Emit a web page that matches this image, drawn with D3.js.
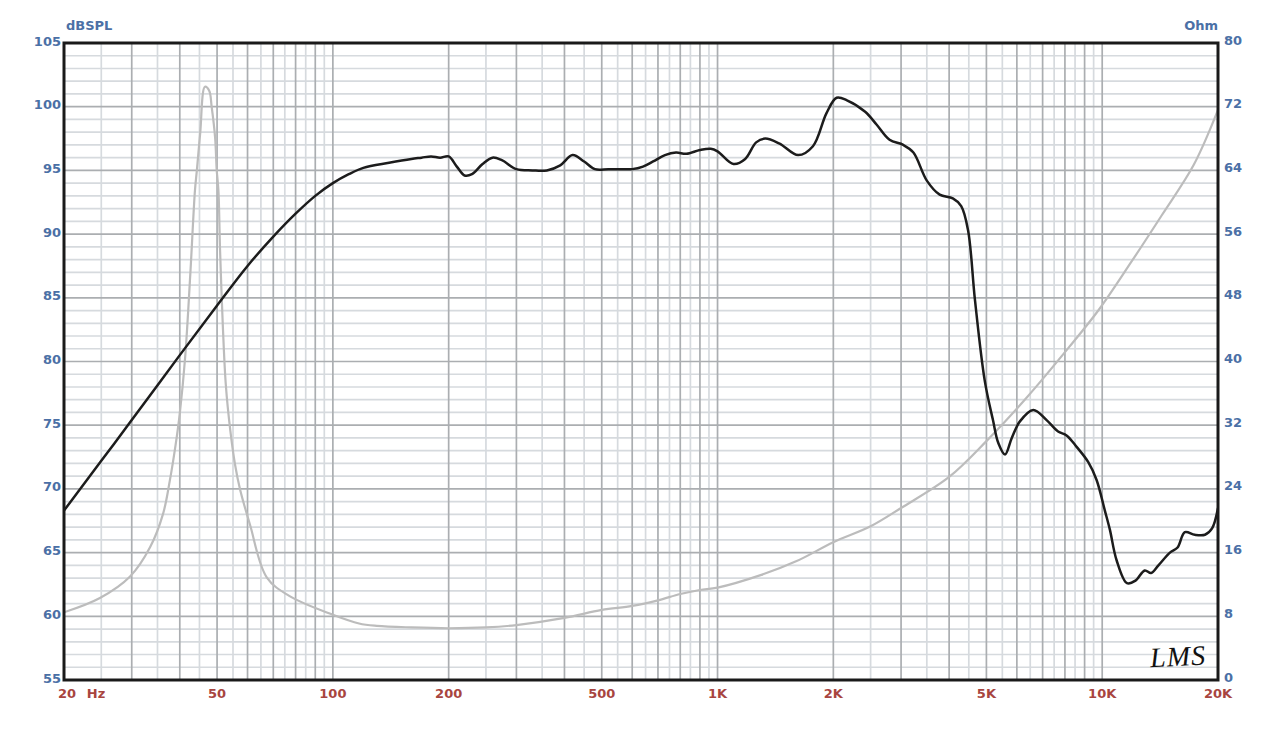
<!DOCTYPE html>
<html>
<head>
<meta charset="utf-8">
<script src="https://cdn.jsdelivr.net/npm/d3@7"></script>
<style>
  html, body { margin: 0; padding: 0; background: #ffffff; }
  svg { display: block; }
</style>
</head>
<body>
<svg id="chart" width="1280" height="735"></svg>
<script>
// ---------------- DATA ----------------
// SPL frequency response (Hz, dB SPL)
const splFreq = [20, 25, 30, 40, 50, 60, 70, 80, 90, 100, 110, 120, 140, 160, 170, 180, 190, 200, 210, 220, 230, 245, 260, 275, 300, 330, 360, 390, 420, 450, 480, 520, 560, 600, 640, 680, 730, 780, 830, 900, 960, 1000, 1100, 1180, 1260, 1330, 1450, 1620, 1770, 1920, 2040, 2170, 2420, 2590, 2800, 3040, 3230, 3500, 3780, 4090, 4300, 4480, 4670, 4950, 5200, 5370, 5590, 5820, 6110, 6620, 7170, 7680, 8080, 8580, 9200, 9670, 10160, 10470, 10900, 11600, 12200, 12900, 13400, 14000, 15000, 15700, 16400, 17400, 18500, 19300, 20000];
const splDb = [68.3, 72.2, 75.4, 80.5, 84.4, 87.5, 89.8, 91.6, 93.0, 94.0, 94.7, 95.2, 95.6, 95.9, 96.0, 96.1, 96.0, 96.1, 95.3, 94.6, 94.7, 95.5, 96.0, 95.8, 95.1, 95.0, 95.0, 95.4, 96.2, 95.7, 95.1, 95.1, 95.1, 95.1, 95.3, 95.7, 96.2, 96.4, 96.3, 96.6, 96.7, 96.5, 95.5, 95.9, 97.2, 97.5, 97.1, 96.2, 96.9, 99.5, 100.7, 100.5, 99.6, 98.6, 97.4, 97.0, 96.4, 94.2, 93.1, 92.8, 92.2, 90.3, 84.8, 78.5, 75.4, 73.6, 72.7, 74.0, 75.3, 76.2, 75.4, 74.5, 74.2, 73.3, 72.1, 70.7, 68.3, 66.8, 64.4, 62.6, 62.8, 63.6, 63.4, 64.0, 65.0, 65.4, 66.6, 66.4, 66.4, 66.9, 68.5];

// Impedance (Hz, Ohm)
const impFreq = [20, 24.8, 29.7, 33.5, 36.2, 37.7, 39, 40, 41.3, 42.6, 43.8, 44.3, 45.2, 46.5, 47.7, 48.4, 49.4, 49.9, 50.4, 50.9, 51.8, 52.7, 54.1, 55.7, 57.4, 60.9, 67.3, 77.4, 100, 117, 130, 160, 200, 250, 300, 400, 500, 600, 700, 800, 900, 1000, 1300, 1600, 2000, 2500, 3000, 4000, 5000, 6400, 8200, 9800, 11900, 14300, 17300, 20000];
const impOhm = [8.5, 10.3, 13.0, 16.7, 20.9, 25.1, 29.5, 33.5, 40.5, 51.0, 61.5, 64.0, 68.7, 74.5, 74.0, 72.0, 68.2, 64.0, 61.5, 54.0, 44.0, 37.0, 31.4, 27.0, 23.9, 19.5, 12.9, 10.5, 8.2, 7.1, 6.8, 6.6, 6.5, 6.6, 6.9, 7.8, 8.8, 9.3, 10.0, 10.8, 11.3, 11.6, 13.2, 14.9, 17.3, 19.3, 21.6, 25.5, 30.0, 35.6, 41.8, 46.5, 52.5, 58.4, 64.7, 71.6];

// Axis tick labels
const freqTicks = [20, 50, 100, 200, 500, 1000, 2000, 5000, 10000, 20000];
const freqTickLabels = ["20", "50", "100", "200", "500", "1K", "2K", "5K", "10K", "20K"];
const dbTicks = [55, 60, 65, 70, 75, 80, 85, 90, 95, 100, 105];
const ohmTicks = [0, 8, 16, 24, 32, 40, 48, 56, 64, 72, 80];
const gridMultipliers = [2, 2.5, 3, 3.5, 4, 4.5, 5, 5.5, 6, 6.5, 7, 7.5, 8, 8.5, 9, 9.5, 10];
const gridDecades = [10, 100, 1000, 10000];

// ---------------- LAYOUT ----------------
const L = 64, R = 1218, T = 43, B = 680;
const svg = d3.select("#chart");

const x = d3.scaleLog().domain([20, 20000]).range([L, R]);
const yL = d3.scaleLinear().domain([55, 105]).range([B, T]);
const yR = d3.scaleLinear().domain([0, 80]).range([B, T]);

const blue = "#4b70a6";
const red = "#a8453f";
const lightGrid = "#d6dade";
const darkGrid = "#abaeb1";

// vertical grid
const vLines = [];
gridDecades.forEach(d => gridMultipliers.forEach(m => {
  const f = d * m;
  if (f > 20 && f < 20000) vLines.push({ f, strong: Number.isInteger(m) });
}));
// horizontal grid (every 1 dB)
const hLines = d3.range(56, 105, 1).map(v => ({ v, strong: v % 5 === 0 }));

const grid = svg.append("g");
grid.selectAll("line.hl").data(hLines.filter(d => !d.strong)).join("line")
  .attr("class", "hl")
  .attr("x1", L).attr("x2", R).attr("y1", d => yL(d.v)).attr("y2", d => yL(d.v))
  .attr("stroke", lightGrid).attr("stroke-width", 1.7);
grid.selectAll("line.vl").data(vLines.filter(d => !d.strong)).join("line")
  .attr("class", "vl")
  .attr("y1", T).attr("y2", B).attr("x1", d => x(d.f)).attr("x2", d => x(d.f))
  .attr("stroke", lightGrid).attr("stroke-width", 1.7);
grid.selectAll("line.hs").data(hLines.filter(d => d.strong)).join("line")
  .attr("class", "hs")
  .attr("x1", L).attr("x2", R).attr("y1", d => yL(d.v)).attr("y2", d => yL(d.v))
  .attr("stroke", darkGrid).attr("stroke-width", 1.7);
grid.selectAll("line.vs").data(vLines.filter(d => d.strong)).join("line")
  .attr("class", "vs")
  .attr("y1", T).attr("y2", B).attr("x1", d => x(d.f)).attr("x2", d => x(d.f))
  .attr("stroke", darkGrid).attr("stroke-width", 1.7);

// clip
svg.append("clipPath").attr("id", "plotclip").append("rect")
  .attr("x", L).attr("y", T).attr("width", R - L).attr("height", B - T);

const curves = svg.append("g").attr("clip-path", "url(#plotclip)");

const impLine = d3.line()
  .x((d, i) => x(impFreq[i])).y(d => yR(d))
  .curve(d3.curveCatmullRom.alpha(0.5));
curves.append("path").datum(impOhm)
  .attr("d", impLine).attr("fill", "none")
  .attr("stroke", "#bcbcbc").attr("stroke-width", 2.2).attr("stroke-linejoin", "round");

const splLine = d3.line()
  .x((d, i) => x(splFreq[i])).y(d => yL(d))
  .curve(d3.curveCatmullRom.alpha(0.5));
curves.append("path").datum(splDb)
  .attr("d", splLine).attr("fill", "none")
  .attr("stroke", "#1c1c1c").attr("stroke-width", 2.5).attr("stroke-linejoin", "round");

// frame
svg.append("rect").attr("x", L).attr("y", T).attr("width", R - L).attr("height", B - T)
  .attr("fill", "none").attr("stroke", "#1a1a1a").attr("stroke-width", 3);

const font = "'DejaVu Sans', sans-serif";

// left axis labels
svg.append("g").selectAll("text").data(dbTicks).join("text")
  .attr("x", 61).attr("y", d => yL(d) - 2)
  .attr("text-anchor", "end").attr("dominant-baseline", "central")
  .attr("font-family", font).attr("font-weight", "bold").attr("font-size", 13)
  .attr("fill", blue).text(d => d);

// right axis labels
svg.append("g").selectAll("text").data(ohmTicks).join("text")
  .attr("x", 1224).attr("y", d => yR(d) - 3)
  .attr("text-anchor", "start").attr("dominant-baseline", "central")
  .attr("font-family", font).attr("font-weight", "bold").attr("font-size", 13)
  .attr("fill", blue).text(d => d);

// bottom labels
svg.append("g").selectAll("text").data(freqTicks).join("text")
  .attr("x", (d, i) => i === 0 ? x(d) + 3 : x(d))
  .attr("y", 693)
  .attr("text-anchor", "middle").attr("dominant-baseline", "central")
  .attr("font-family", font).attr("font-weight", "bold").attr("font-size", 13)
  .attr("fill", red).text((d, i) => freqTickLabels[i]);
svg.append("text").attr("x", 96).attr("y", 693)
  .attr("text-anchor", "middle").attr("dominant-baseline", "central")
  .attr("font-family", font).attr("font-weight", "bold").attr("font-size", 13)
  .attr("fill", red).text("Hz");

// axis titles
svg.append("text").attr("x", 66).attr("y", 30)
  .attr("font-family", font).attr("font-weight", "bold").attr("font-size", 13)
  .attr("fill", blue).text("dBSPL");
svg.append("text").attr("x", 1218).attr("y", 30)
  .attr("text-anchor", "end")
  .attr("font-family", font).attr("font-weight", "bold").attr("font-size", 13)
  .attr("fill", blue).text("Ohm");

// LMS logo
svg.append("text").attr("x", 1150).attr("y", 666)
  .attr("font-family", "'Liberation Serif', serif").attr("font-style", "italic")
  .attr("font-size", 28).attr("fill", "#111").attr("letter-spacing", 1)
  .attr("transform", "rotate(-3 1175 655)")
  .text("LMS");
</script>
</body>
</html>
